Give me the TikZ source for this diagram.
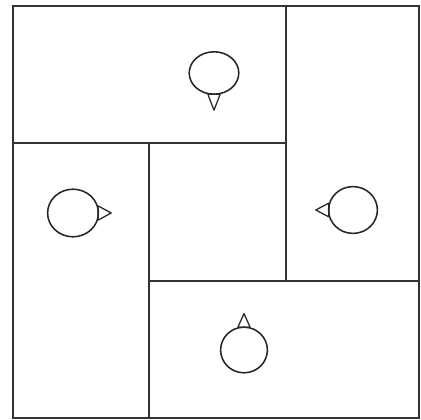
\documentclass[tikz,border=0pt]{standalone}
\usetikzlibrary{shapes.geometric}
\begin{document}
\begin{tikzpicture}[
    x=0.025cm, y=-0.025cm,
    wall/.style={line width=1.5pt, color=black!80, line cap=round},
    spot/.style={ellipse, draw=black!85, line width=1.1pt, minimum width=1.22cm, minimum height=1.17cm, inner sep=0pt},
    flap/.style={draw=black!85, line width=0.9pt, line join=round}
]
\useasboundingbox (0,0) rectangle (421,420);

% Corners of the plan
\coordinate (nw) at (13,6);
\coordinate (se) at (419,418);
\coordinate (tm) at (286,6);
\coordinate (lm) at (13,143);
\coordinate (cm) at (286,143);
\coordinate (cw) at (149,143);
\coordinate (rm) at (419,281);
\coordinate (ce) at (286,281);
\coordinate (cs) at (149,281);
\coordinate (bm) at (149,418);

% Outer wall
\draw[wall] (nw) rectangle (se);

% Partitions
\draw[wall] (lm) -- (cm);
\draw[wall] (tm) -- (ce);
\draw[wall] (cs) -- (rm);
\draw[wall] (cw) -- (bm);

% Spots with their pointers
\node[spot, minimum width=1.24cm, minimum height=1.06cm] (nspot) at (214,73) {};
\node[spot, minimum width=1.27cm, minimum height=1.19cm] (wspot) at (73,213) {};
\node[spot] (espot) at (353,210) {};
\node[spot, minimum width=1.17cm, minimum height=1.14cm] (sspot) at (244,350) {};

\draw[flap] (nspot.-106) -- ([yshift=-0.38cm]nspot.south) -- (nspot.-74) -- cycle;
\draw[flap] (wspot.16) -- ([xshift=0.3cm]wspot.east) -- (wspot.-16) -- cycle;
\draw[flap] (espot.164) -- ([xshift=-0.3cm]espot.west) -- (espot.196) -- cycle;
\draw[flap] (sspot.75) -- ([yshift=0.32cm]sspot.north) -- (sspot.105) -- cycle;
\end{tikzpicture}
\end{document}
